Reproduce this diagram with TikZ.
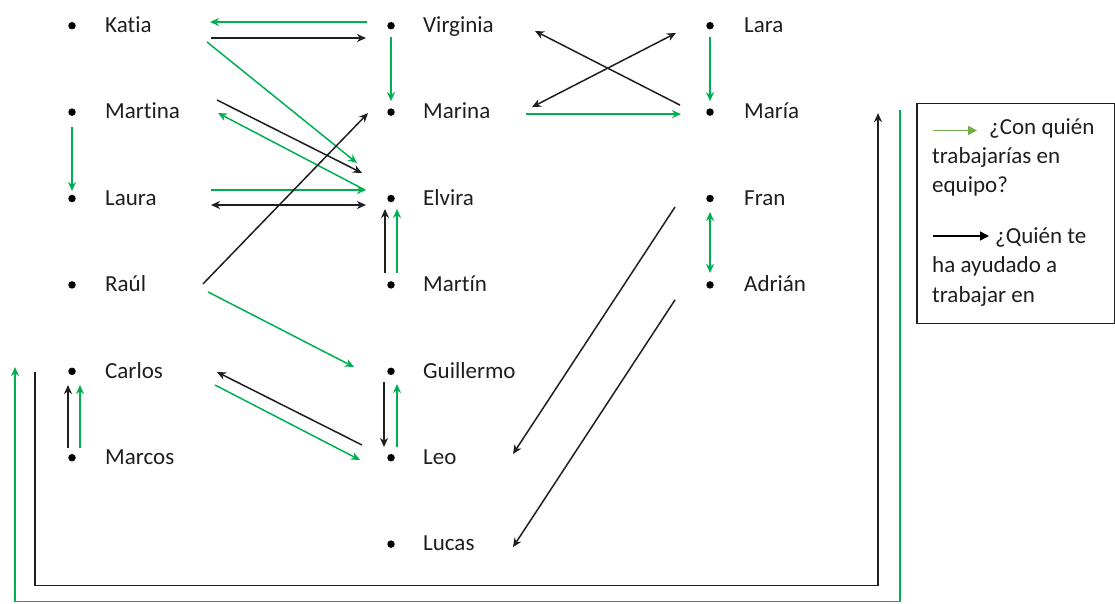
\documentclass[tikz,border=0pt]{standalone}
\usepackage{fontspec}
\setmainfont{Carlito}[Ligatures=NoCommon]
\usetikzlibrary{arrows.meta,calc}
\definecolor{grn}{HTML}{00B050}
\definecolor{lgrn}{HTML}{70AD47}
\definecolor{txt}{HTML}{1E1E1E}

\begin{document}
\begin{tikzpicture}[x=1pt,y=-1pt,
  dot/.style={circle,fill=black,inner sep=0pt,minimum size=7.5pt},
  person/.style={anchor=base west,inner sep=0pt,font=\fontsize{23}{27}\selectfont,text=txt},
  legtext/.style={anchor=base west,inner sep=0pt,font=\fontsize{23}{27}\selectfont,text=txt},
  tip/.tip={Stealth[length=9pt,width=8pt,inset=2.8pt]},
  link/.style={line width=1.5pt,-tip},
  both/.style={line width=1.5pt,tip-tip},
  team/.style={draw=grn},
  help/.style={draw=black!88}]

\useasboundingbox (0,0) rectangle (1115,603);

% people: bullet + name
\node[dot] (katia)     at (72,25.7)  {};
\node[dot] (martina)   at (72,112.1) {};
\node[dot] (laura)     at (72,198.5) {};
\node[dot] (raul)      at (72,284.9) {};
\node[dot] (carlos)    at (72,371.3) {};
\node[dot] (marcos)    at (72,457.7) {};
\node[dot] (virginia)  at (391,25.7)  {};
\node[dot] (marina)    at (391,112.1) {};
\node[dot] (elvira)    at (391,198.5) {};
\node[dot] (martin)    at (391,284.9) {};
\node[dot] (guillermo) at (391,371.3) {};
\node[dot] (leo)       at (391,457.7) {};
\node[dot] (lucas)     at (391,544.1) {};
\node[dot] (lara)      at (710,25.7)  {};
\node[dot] (maria)     at (710,112.1) {};
\node[dot] (fran)      at (710,198.5) {};
\node[dot] (adrian)    at (710,284.9) {};

\node[person] (katia-l)     at ($(katia)+(33,6.8)$)     {Katia};
\node[person] (martina-l)   at ($(martina)+(33,6.8)$)   {Martina};
\node[person] (laura-l)     at ($(laura)+(33,6.8)$)     {Laura};
\node[person] (raul-l)      at ($(raul)+(33,6.8)$)      {Raúl};
\node[person] (carlos-l)    at ($(carlos)+(33,6.8)$)    {Carlos};
\node[person] (marcos-l)    at ($(marcos)+(33,6.8)$)    {Marcos};
\node[person] (virginia-l)  at ($(virginia)+(32,6.8)$)  {Virginia};
\node[person] (marina-l)    at ($(marina)+(32,6.8)$)    {Marina};
\node[person] (elvira-l)    at ($(elvira)+(32,6.8)$)    {Elvira};
\node[person] (martin-l)    at ($(martin)+(32,6.8)$)    {Martín};
\node[person] (guillermo-l) at ($(guillermo)+(32,6.8)$) {Guillermo};
\node[person] (leo-l)       at ($(leo)+(32,6.8)$)       {Leo};
\node[person] (lucas-l)     at ($(lucas)+(32,6.8)$)     {Lucas};
\node[person] (lara-l)      at ($(lara)+(34,6.8)$)      {Lara};
\node[person] (maria-l)     at ($(maria)+(34,6.8)$)     {María};
\node[person] (fran-l)      at ($(fran)+(34,6.8)$)      {Fran};
\node[person] (adrian-l)    at ($(adrian)+(34,6.8)$)    {Adrián};

% left column links
\draw[link,team] ($(virginia)+(-24,-3.7)$) -- ($(katia)+(138,-3.7)$);
\draw[link,help] ($(katia)+(139,12.3)$) -- ($(virginia)+(-25,12.3)$);
\draw[link,team] ($(katia)+(135,16.3)$) -- ($(elvira)+(-34,-35.5)$);
\draw[link,help] ($(martina)+(145,-12.1)$) -- ($(elvira)+(-29,-25.5)$);
\draw[link,team] ($(elvira)+(-26,-8.5)$) -- ($(martina)+(146,0.9)$);
\draw[link,team] ($(laura)+(139,-8.5)$) -- ($(elvira)+(-25,-8.5)$);
\draw[both,help] ($(laura)+(139,6.5)$) -- ($(elvira)+(-25,6.5)$);
\draw[link,team] ($(martina)+(0,15)$) -- ($(laura)+(0,-7.5)$);
\draw[link,help] ($(raul)+(131,-1)$) -- ($(marina)+(-23,1)$);
\draw[link,team] ($(raul)+(136,7)$) -- ($(guillermo)+(-37,-4.3)$);
\draw[link,help] ($(leo)+(-29,-12.7)$) -- ($(carlos)+(145,0.7)$);
\draw[link,team] ($(carlos)+(143,13.7)$) -- ($(leo)+(-31,2.3)$);
\draw[link,help] ($(marcos)+(-4,-10)$) -- ($(carlos)+(-4,13.7)$);
\draw[link,team] ($(marcos)+(8,-10)$) -- ($(carlos)+(8,13.7)$);

% middle column links
\draw[link,help] ($(martin)+(-6,-12)$) -- ($(elvira)+(-6,10.5)$);
\draw[link,team] ($(martin)+(6,-12)$) -- ($(elvira)+(6,10.5)$);
\draw[link,team] ($(virginia)+(0,11.3)$) -- ($(marina)+(0,-11)$);
\draw[link,team] ($(marina)+(135,2)$) -- ($(maria)+(-29,2)$);
\draw[link,help] ($(maria)+(-30,-7)$) -- ($(virginia)+(144,5.3)$);
\draw[both,help] ($(marina)+(141,-5)$) -- ($(lara)+(-34,7.3)$);
\draw[link,help] ($(guillermo)+(-7,11)$) -- ($(leo)+(-7,-10.7)$);
\draw[link,team] ($(leo)+(6,-10.7)$) -- ($(guillermo)+(6,12.7)$);

% right column links
\draw[link,team] ($(lara)+(0,11.3)$) -- ($(maria)+(0,-11)$);
\draw[both,team] ($(fran)+(0,13.5)$) -- ($(adrian)+(0,-12)$);
\draw[link,help] ($(fran)+(-35,8.5)$) -- ($(leo)+(122,-3.7)$);
\draw[link,help] ($(adrian)+(-35,15)$) -- ($(lucas)+(122,3)$);

% long loops between Carlos and María
\draw[link,help] ($(carlos)+(-37,0.7)$) -- ++(0,213.7) -| ($(maria)+(168,1)$);
\draw[link,team] ($(maria)+(190,-2)$) -- ++(0,491.4) -| ($(carlos)+(-57,-4.3)$);

% legend
\node[draw=black!88,line width=1.5pt,minimum width=198pt,minimum height=220pt,anchor=north west,inner sep=0pt] (legend) at (916,102.5) {};
\coordinate (lg1) at ($(legend.north west)+(17,28)$);
\coordinate (lg2) at ($(legend.north west)+(61,28)$);
\coordinate (lk1) at ($(legend.north west)+(17,133.5)$);
\coordinate (lk2) at ($(legend.north west)+(73,133.5)$);
\draw[line width=1.5pt,draw=lgrn,-{Triangle[length=9pt,width=9pt]}] (lg1) -- (lg2);
\draw[line width=1.5pt,draw=black,-{Triangle[length=9pt,width=9pt]}] (lk1) -- (lk2);
\node[legtext] (q1a) at ($(legend.north west)+(73,31.5)$)  {¿Con quién};
\node[legtext] (q1b) at ($(legend.north west)+(16,60.5)$)  {trabajarías en};
\node[legtext] (q1c) at ($(legend.north west)+(16,89.5)$)  {equipo?};
\node[legtext] (q2a) at ($(legend.north west)+(79,140.5)$) {¿Quién te};
\node[legtext] (q2b) at ($(legend.north west)+(16,170)$)   {ha ayudado a};
\node[legtext] (q2c) at ($(legend.north west)+(16,199.5)$) {trabajar en};

\end{tikzpicture}
\end{document}
